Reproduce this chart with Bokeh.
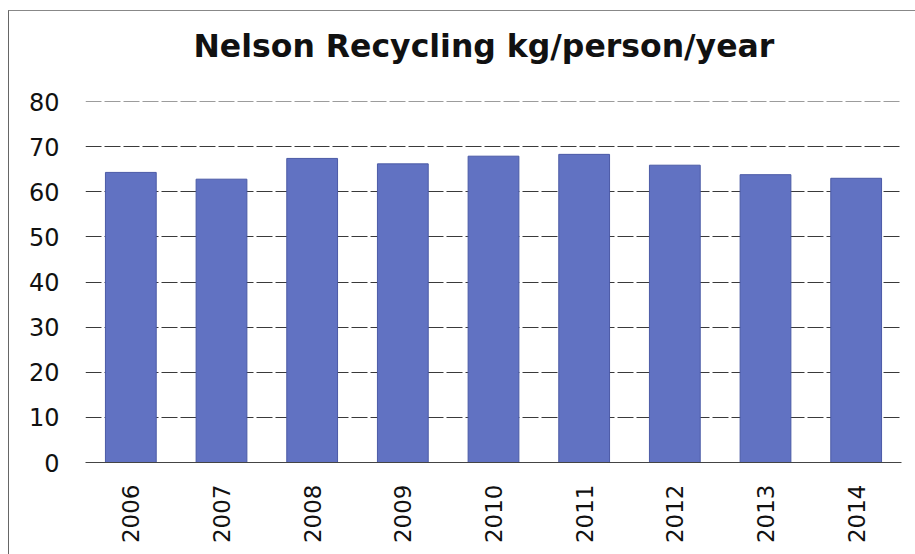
from bokeh.plotting import figure
from bokeh.embed import file_html
from bokeh.resources import INLINE
from bokeh.models import SingleIntervalTicker, Title

years = ["2006", "2007", "2008", "2009", "2010", "2011", "2012", "2013", "2014"]
kg_per_person = [64.3, 62.8, 67.4, 66.2, 67.9, 68.3, 65.9, 63.8, 63.0]
y_ticks = [0, 10, 20, 30, 40, 50, 60, 70, 80]

p = figure(x_range=years, y_range=(0, 80.02), width=907, height=544,
           output_backend="svg", toolbar_location=None,
           min_border_left=76, min_border_right=15, min_border_top=90, min_border_bottom=93)
p.margin = (10, 0, 0, 8)
p.styles = {"border-left": "1px solid #666", "border-top": "1px solid #888"}
p.title = None

spacer = Title(text=" ", text_font_size="32px", standoff=0)
p.add_layout(spacer, "above")
main_title = Title(text="Nelson Recycling kg/person/year", align="left", offset=108,
                   text_font="DejaVu Sans", text_font_size="31.5px", text_font_style="bold",
                   text_color="#111111", standoff=0)
p.add_layout(main_title, "above")

p.vbar(x=years, top=kg_per_person, width=0.56, fill_color="#6172C2",
       line_color="#4B5AA6", line_width=1)

p.outline_line_color = None
p.background_fill_color = "white"
p.border_fill_color = "white"

p.xgrid.grid_line_color = None
p.ygrid.ticker = SingleIntervalTicker(interval=10)
p.ygrid.grid_line_color = "#3a3a3a"
p.ygrid.grid_line_width = 1
p.ygrid.grid_line_dash = "16 3"

p.yaxis.ticker = y_ticks
p.yaxis.axis_line_color = None
p.yaxis.major_tick_line_color = None
p.yaxis.minor_tick_line_color = None
p.yaxis.major_label_text_font = "DejaVu Sans"
p.yaxis.major_label_text_font_size = "24px"
p.yaxis.major_label_text_color = "#111111"
p.yaxis.major_label_standoff = 20

p.xaxis.axis_line_color = "#444444"
p.xaxis.major_tick_line_color = None
p.xaxis.minor_tick_line_color = None
p.xaxis.major_label_orientation = 1.5708
p.xaxis.major_label_text_font = "DejaVu Sans"
p.xaxis.major_label_text_font_size = "23px"
p.xaxis.major_label_text_color = "#111111"
p.xaxis.major_label_standoff = 16

p.x_range.range_padding = 0.0

open("out.html", "w").write(file_html(p, INLINE))
